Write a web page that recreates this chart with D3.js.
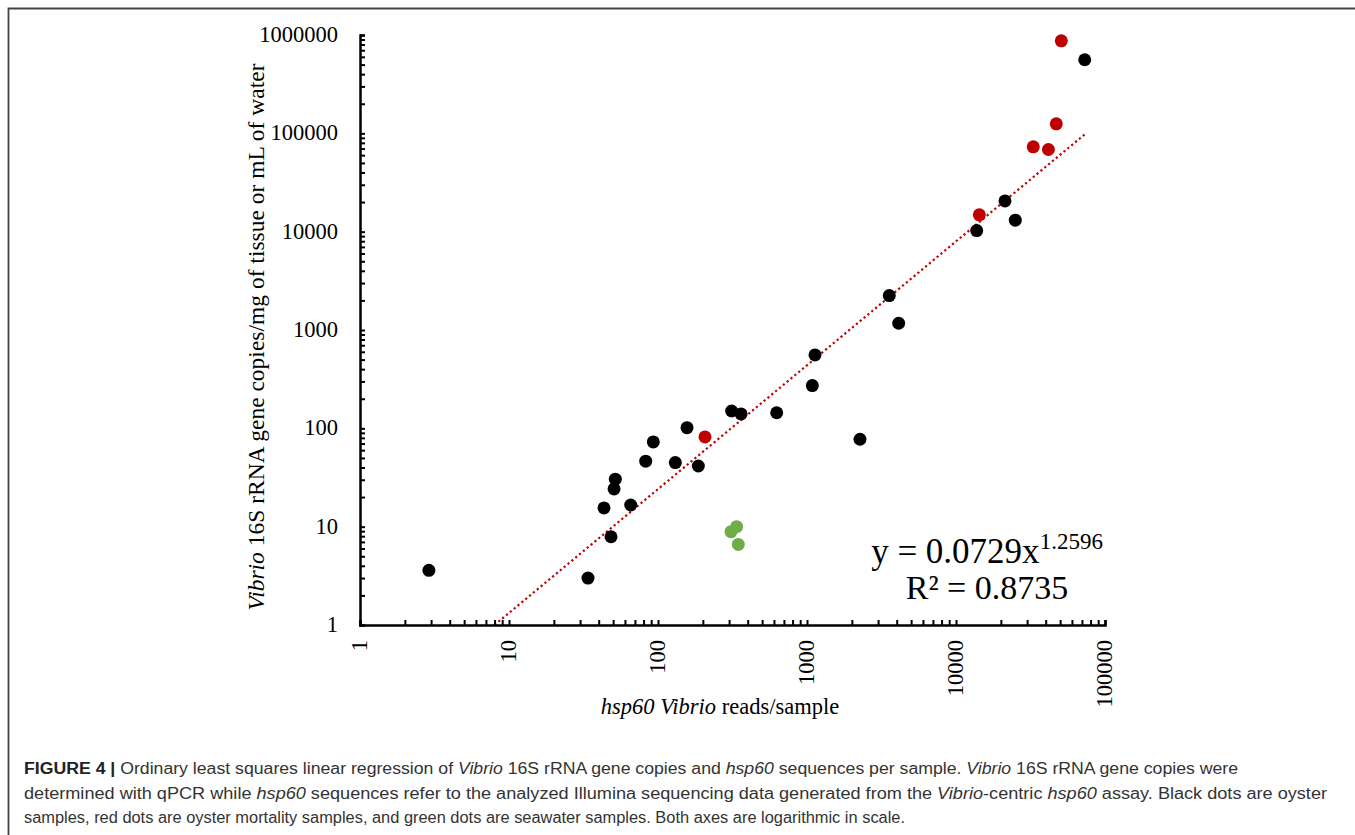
<!DOCTYPE html>
<html>
<head>
<meta charset="utf-8">
<script src="https://cdn.jsdelivr.net/npm/d3@7"></script>
<style>
  body { margin: 0; background: #fff; }
  svg { display: block; }
</style>
</head>
<body>
<svg id="graph" width="1355" height="835"></svg>
<script>
// oyster samples (black)
const oysterX = [2.9, 33.9, 48.4, 43.4, 50.7, 51.7, 65.6, 82.7, 93, 130.7, 156.6, 186.5, 312, 361, 626, 1086, 1132, 2268, 4124, 3566, 13770, 21320, 25000, 73100];
const oysterY = [3.6, 3.0, 7.9, 15.5, 24.2, 30.4, 16.6, 46.3, 72.7, 44.8, 101.6, 41.4, 150, 140, 144, 272, 558, 77.4, 1172, 2238, 10260, 20560, 13090, 560000];
// oyster mortality samples (red)
const mortX = [206.7, 14340, 33000, 41700, 47100, 50900];
const mortY = [81.8, 14830, 72900, 68500, 125000, 873000];
// seawater samples (green)
const waterX = [309, 337, 346];
const waterY = [8.9, 10, 6.6];

const xTicks = [1, 10, 100, 1000, 10000, 100000];
const yTicks = [1, 10, 100, 1000, 10000, 100000, 1000000];
const fitA = 0.0729, fitB = 1.2596;
const fitRange = [8.0, 73100];

const svg = d3.select("#graph");
const serif = "'Liberation Serif', 'Times New Roman', serif";

// figure frame
svg.append("path")
    .attr("d", "M8.5,835 V8.5 H1355")
    .attr("fill", "none")
    .attr("stroke", "#444")
    .attr("stroke-width", 1.8);

const scX = d3.scaleLog().domain([1, 100000]).range([360, 1105]);
const scY = d3.scaleLog().domain([1, 1000000]).range([625, 35]);

const minor = function (domain) {
    let out = [];
    for (let d = domain[0]; d < domain[1]; d *= 10) {
        for (let k = 2; k <= 9; k++) out.push(d * k);
    }
    return out;
};

const g = svg.append("g");

// trend line
const lnMkr = d3.line().x((d) => scX(d)).y((d) => scY(fitA * Math.pow(d, fitB)));
g.append("path")
    .attr("d", lnMkr(fitRange))
    .attr("fill", "none")
    .attr("stroke", "#c00000")
    .attr("stroke-width", 2.2)
    .attr("stroke-dasharray", "2.2,2.8");

const drawPts = function (xs, ys, color) {
    g.append("g").selectAll("circle")
        .data(xs)
        .enter()
        .append("circle")
        .attr("r", 6.5)
        .attr("cx", (d) => scX(d))
        .attr("cy", (d, i) => scY(ys[i]))
        .attr("fill", color);
};
drawPts(oysterX, oysterY, "#000");
drawPts(mortX, mortY, "#c00000");
drawPts(waterX, waterY, "#70ad47");

// axes with inside ticks
const yAx = svg.append("g").attr("transform", "translate(360,0)");
yAx.call(d3.axisRight(scY).tickValues(yTicks.concat(minor(scY.domain()))).tickSize(5).tickFormat(""));
yAx.selectAll("line").attr("stroke-width", 2);
yAx.select(".domain").attr("stroke-width", 2.5);
yAx.selectAll(".lbl")
    .data(yTicks)
    .enter()
    .append("text")
    .attr("x", -22)
    .attr("y", (d) => scY(d) + 7)
    .attr("text-anchor", "end")
    .attr("font-family", serif)
    .attr("font-size", 22.5)
    .attr("fill", "#000")
    .text((d) => d);

const xAx = svg.append("g").attr("transform", "translate(0,625)");
xAx.call(d3.axisTop(scX).tickValues(xTicks.concat(minor(scX.domain()))).tickSize(5).tickFormat(""));
xAx.selectAll("line").attr("stroke-width", 2);
xAx.select(".domain").attr("stroke-width", 2.5);
xAx.selectAll(".lbl")
    .data(xTicks)
    .enter()
    .append("text")
    .attr("transform", (d) => "translate(" + (scX(d) + 7) + ",15) rotate(-90)")
    .attr("text-anchor", "end")
    .attr("font-family", serif)
    .attr("font-size", 22.5)
    .attr("fill", "#000")
    .text((d) => d);

// axis titles
const xt = svg.append("text")
    .attr("x", 720)
    .attr("y", 714)
    .attr("text-anchor", "middle")
    .attr("font-family", serif)
    .attr("font-size", 22.5);
xt.append("tspan").attr("font-style", "italic").text("hsp60 Vibrio");
xt.append("tspan").text(" reads/sample");

const yt = svg.append("text")
    .attr("transform", "translate(264,337) rotate(-90)")
    .attr("text-anchor", "middle")
    .attr("font-family", serif)
    .attr("font-size", 23.5);
yt.append("tspan").attr("font-style", "italic").text("Vibrio");
yt.append("tspan").text(" 16S rRNA gene copies/mg of tissue or mL of water");

// equation
const eq = svg.append("text")
    .attr("x", 987)
    .attr("y", 563)
    .attr("text-anchor", "middle")
    .attr("font-family", serif)
    .attr("font-size", 35);
eq.append("tspan").text("y = " + fitA + "x");
eq.append("tspan").attr("font-size", 23).attr("dy", -14).text(fitB.toFixed(4));
svg.append("text")
    .attr("x", 987)
    .attr("y", 599)
    .attr("text-anchor", "middle")
    .attr("font-family", serif)
    .attr("font-size", 34)
    .text("R² = 0.8735");

// caption
const sans = "'Liberation Sans', Arial, sans-serif";
const capLines = [
    [["b", "FIGURE 4 | "], ["", "Ordinary least squares linear regression of "], ["i", "Vibrio"], ["", " 16S rRNA gene copies and "], ["i", "hsp60"], ["", " sequences per sample. "], ["i", "Vibrio"], ["", " 16S rRNA gene copies were"]],
    [["", "determined with qPCR while "], ["i", "hsp60"], ["", " sequences refer to the analyzed Illumina sequencing data generated from the "], ["i", "Vibrio"], ["", "-centric "], ["i", "hsp60"], ["", " assay. Black dots are oyster"]],
    [["", "samples, red dots are oyster mortality samples, and green dots are seawater samples. Both axes are logarithmic in scale."]]
];
const capWidths = [1214, 1303, 881];
capLines.forEach(function (line, i) {
    const t = svg.append("text")
        .attr("x", 24)
        .attr("y", 774 + i * 24.5)
        .attr("font-family", sans)
        .attr("font-size", 16)
        .attr("fill", "#333")
        .attr("textLength", capWidths[i])
        .attr("lengthAdjust", "spacingAndGlyphs");
    line.forEach(function (seg) {
        const s = t.append("tspan").text(seg[1]);
        if (seg[0] === "b") s.attr("font-weight", "bold").attr("fill", "#222");
        if (seg[0] === "i") s.attr("font-style", "italic");
    });
});
</script>
</body>
</html>
